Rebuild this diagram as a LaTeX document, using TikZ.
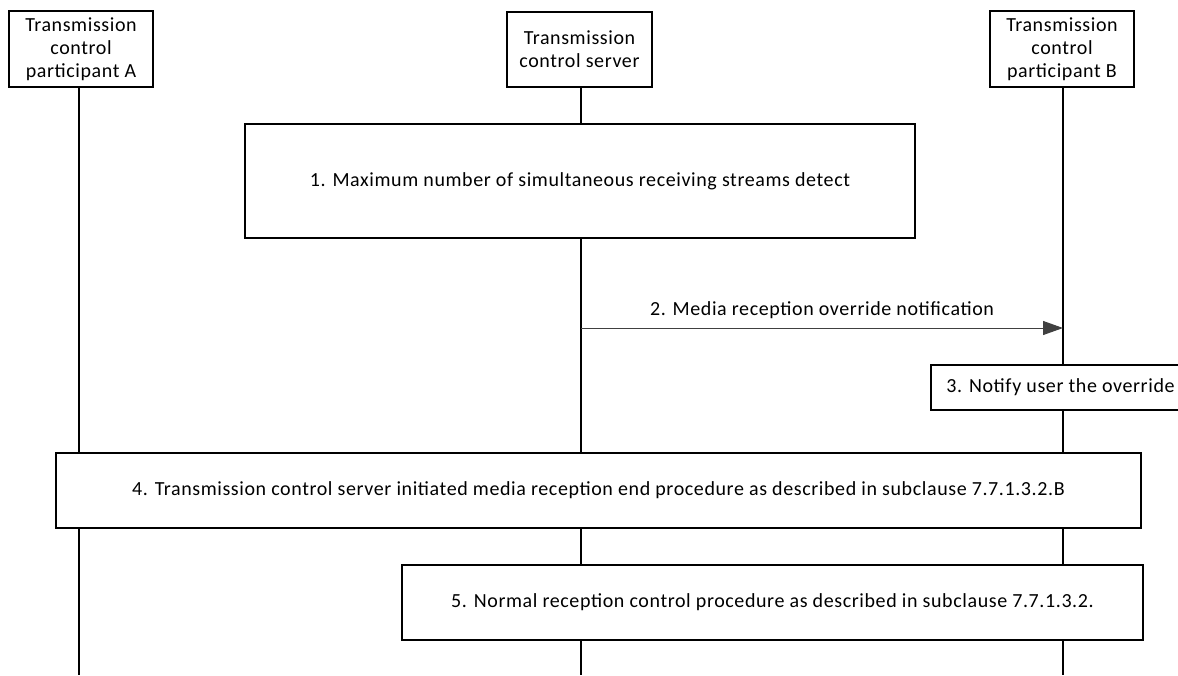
\documentclass[tikz,border=0pt]{standalone}
\usepackage{fontspec}
\setmainfont{Carlito}[LetterSpace=3]
\usetikzlibrary{arrows.meta}
\begin{document}
\begin{tikzpicture}[x=1pt,y=-1pt,
  every node/.style={font=\fontsize{20}{23}\selectfont, inner sep=0pt},
  box/.style={draw=black, line width=1.3pt, fill=white, align=center},
  life/.style={draw=black, line width=1.3pt},
  msg/.style={draw=black!75, line width=1pt, -{Triangle[length=20pt,width=14pt,fill=black!75]}}]
\useasboundingbox (0,0) rectangle (1178,675);
% header boxes
\node[box, minimum width=144pt, minimum height=76pt] (A) at (81,49) {Transmission\\control\\participant A};
\node[box, minimum width=145pt, minimum height=75pt] (S) at (579.5,49.5) {Transmission\\control server};
\node[box, minimum width=144pt, minimum height=76pt] (B) at (1062,49) {Transmission\\control\\participant B};
\coordinate (Aend) at (79,675);
\coordinate (Send) at (581,675);
\coordinate (Bend) at (1063,675);
\draw[life] (A.south -| Aend) -- (Aend);
\draw[life] (S.south -| Send) -- (Send);
\draw[life] (B.south -| Bend) -- (Bend);
% step 1
\node[box, minimum width=670pt, minimum height=114pt] (s1) at (580,181) {1. Maximum number of simultaneous receiving streams detect};
% step 2
\coordinate (m2s) at (581,328);
\coordinate (m2e) at (1063,328);
\draw[msg] (m2s) -- (m2e) node[midway, above=9pt, text=black] (l2) {2. Media reception override notification};
% step 3
\node[box, minimum width=259pt, minimum height=45pt] (s3) at (1060.5,387.5) {3. Notify user the override};
% step 4
\node[box, minimum width=1085pt, minimum height=75pt] (s4) at (598.5,490.5) {4. Transmission control server initiated media reception end procedure as described in subclause 7.7.1.3.2.B};
% step 5
\node[box, minimum width=741pt, minimum height=75pt] (s5) at (772.5,602.5) {5. Normal reception control procedure as described in subclause 7.7.1.3.2.};
\end{tikzpicture}
\end{document}
